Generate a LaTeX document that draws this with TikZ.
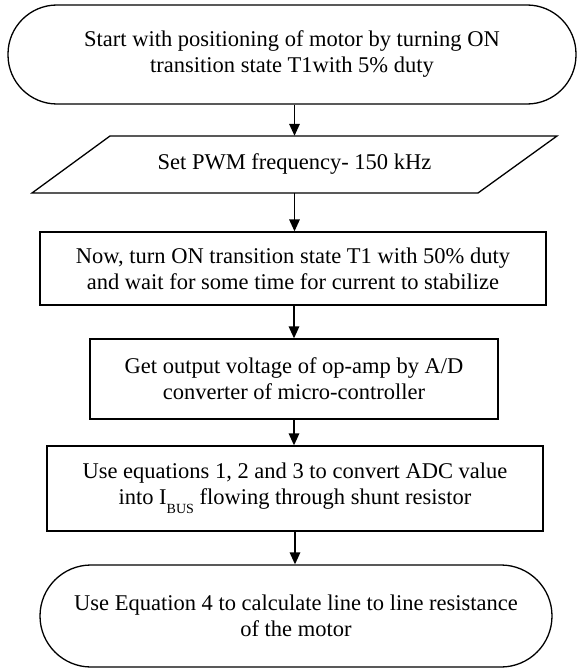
\documentclass[tikz,border=0pt]{standalone}
\usepackage{fontspec}
\setmainfont{Liberation Serif}
\newfontfamily\flowfont{Liberation Serif}
\usetikzlibrary{arrows.meta}
\begin{document}
\begin{tikzpicture}[x=1pt,y=-1pt,
  every node/.style={font=\flowfont\fontsize{22.5}{26}\selectfont, align=center, inner sep=0pt},
  terminal/.style={draw, line width=1.3pt, rounded corners=49pt},
  procbox/.style={draw, line width=1.3pt, rectangle},
  flow/.style={line width=1.6pt, -{Triangle[length=12pt,width=10.5pt]}}]
\useasboundingbox (0,0) rectangle (578,669);

% start terminal
\node[terminal, minimum width=568pt, minimum height=99pt] (start) at (292,54.5)
  {Start with positioning of motor by turning ON\\transition state T1with 5\% duty};

% input/output step (parallelogram drawn around a plain text node)
\node[minimum width=447pt, minimum height=57pt] (pwm) at (294.5,164.5)
  {Set PWM frequency- 150 kHz};
\draw[line width=1.3pt, line join=miter]
  (110,136) -- (557,136) -- (478,193) -- (32,193) -- cycle;

% process steps
\node[procbox, minimum width=506pt, minimum height=73pt] (duty) at (293,268.5)
  {Now, turn ON transition state T1 with 50\% duty\\and wait for some time for current to stabilize};
\node[procbox, minimum width=408pt, minimum height=80pt] (adc) at (294,379)
  {Get output voltage of op-amp by A/D\\converter of micro-controller};
\node[procbox, minimum width=496pt, minimum height=85pt] (ibus) at (295,488.5)
  {Use equations 1, 2 and 3 to convert ADC value\\into I\raisebox{-9pt}{\fontsize{14}{14}\selectfont BUS} flowing through shunt resistor};

% end terminal
\node[terminal, rounded corners=51pt, minimum width=512pt, minimum height=102pt] (stop) at (296,616)
  {Use Equation 4 to calculate line to line resistance\\of the motor};

% connectors
\draw[flow] (start.south -| pwm.north) -- (pwm.north);
\draw[flow] (pwm.south) -- (pwm.south |- duty.north);
\draw[flow] (duty.south -| adc.north) -- (adc.north);
\draw[flow] (adc.south) -- (adc.south |- ibus.north);
\draw[flow] (ibus.south) -- (ibus.south |- stop.north);
\end{tikzpicture}
\end{document}
